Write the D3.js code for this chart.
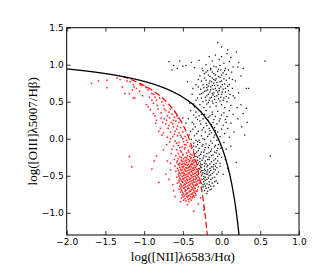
<!DOCTYPE html>
<html>
<head>
<meta charset="utf-8">
<script src="https://cdn.jsdelivr.net/npm/d3@7"></script>
<style>
	body { margin: 0; background: #fff; }
	svg { display: block; }
</style>
</head>
<body>
<script>
// BPT diagram: [NII]/Ha vs [OIII]/Hb
const xTicks = [-2.0, -1.5, -1.0, -0.5, 0.0, 0.5, 1.0];
const yTicks = [-1.0, -0.5, 0.0, 0.5, 1.0, 1.5];
const xLabel = "log([NII]λ6583/Hα)";
const yLabel = "log([OIII]λ5007/Hβ)";

// demarcation lines: y = a / (x - b) + c
const kewleyCoef = [0.61, 0.47, 1.19];
const kauffmannCoef = [0.61, 0.05, 1.3];
const kauffmannStart = -1.28;

// black points (above Kauffmann line)
const agnTop = [[-0.05,1.30],[0.08,1.20],[0.07,1.15],[0.19,1.17],[0.00,1.11],[-0.68,1.04],[-0.54,1.05],[-0.39,1.03],[-0.29,1.06],[-0.16,1.11],[-0.03,1.07],[0.56,1.05],[0.15,0.97],[0.21,0.97],[0.28,0.95],[-0.50,0.98],[-0.46,0.99],[-0.64,0.93],[-0.57,0.95],[-0.62,0.99],[-0.12,1.05],[-0.08,1.13],[0.03,1.02],[0.10,1.04],[-0.20,1.00],[-0.10,0.98],[-0.02,0.99],[0.05,0.95],[0.12,1.10],[-0.25,0.95],[-0.35,0.96],[0.00,1.24],[-0.14,0.93],[0.22,1.03]];
const agnMid = [[-0.18,0.92],[-0.12,0.90],[-0.05,0.91],[0.02,0.89],[-0.22,0.88],[-0.08,0.86],[0.06,0.87],[-0.15,0.84],[-0.02,0.83],[-0.28,0.85],[0.10,0.82],[-0.10,0.80],[-0.20,0.79],[0.00,0.78],[-0.06,0.76],[-0.16,0.75],[0.04,0.74],[-0.24,0.73],[-0.12,0.72],[-0.01,0.70],[0.08,0.71],[-0.19,0.69],[-0.08,0.68],[-0.30,0.70],[0.14,0.68],[-0.14,0.66],[-0.03,0.65],[-0.22,0.64],[0.05,0.63],[-0.10,0.62],[-0.17,0.60],[0.00,0.60],[-0.26,0.61],[0.11,0.60],[-0.06,0.58],[-0.13,0.56],[-0.21,0.56],[0.03,0.55],[-0.09,0.53],[-0.31,0.55],[0.17,0.55],[-0.16,0.52],[-0.02,0.51],[-0.24,0.50],[0.07,0.50],[-0.11,0.48],[-0.19,0.47],[0.00,0.46],[-0.28,0.46],[0.12,0.45],[-0.07,0.44],[-0.15,0.43],[-0.23,0.42],[0.04,0.42],[-0.35,0.43],[0.20,0.42],[-0.41,0.48],[-0.38,0.60],[-0.44,0.77],[-0.33,0.73],[-0.37,0.68],[0.32,0.68],[0.35,0.68],[0.25,0.46],[0.32,0.41],[0.28,0.34],[0.22,0.62],[0.18,0.78],[0.25,0.85],[0.13,0.90],[-0.26,0.78],[-0.04,0.94],[0.09,0.93],[-0.13,0.77],[-0.09,0.72],[-0.05,0.63],[0.15,0.58],[-0.20,0.65],[-0.01,0.56],[0.06,0.79],[0.02,0.67],[-0.17,0.71],[-0.11,0.59],[-0.27,0.67],[0.09,0.65],[-0.07,0.81],[-0.33,0.52],[-0.36,0.47],
	[-0.14,0.95],[-0.07,0.97],[-0.01,0.93],[-0.20,0.90],[-0.10,0.88],[0.00,0.86],[-0.17,0.86],[-0.04,0.84],[-0.12,0.82],[0.03,0.81],[-0.22,0.82],[-0.08,0.79],[-0.15,0.78],[-0.02,0.77],[-0.10,0.75],[0.01,0.73],[-0.19,0.73],[-0.05,0.72],[-0.14,0.70],[-0.23,0.69],[-0.03,0.68],[-0.11,0.67],[0.05,0.68],[-0.18,0.66],[-0.07,0.65],[-0.15,0.63],[0.01,0.63],[-0.24,0.62],[-0.12,0.61],[-0.04,0.60],[-0.19,0.58],[-0.09,0.57],[0.06,0.57],[-0.15,0.55],[-0.04,0.54],[-0.20,0.52],[-0.12,0.51],[0.02,0.52],[-0.07,0.49],[-0.17,0.49],[-0.26,0.55],[0.09,0.55],[-0.28,0.60],[0.10,0.73],[-0.30,0.80],[0.14,0.80],[0.04,0.92],[-0.24,0.92]];
const agnLow = [[-0.40,0.38],[-0.33,0.36],[-0.27,0.37],[-0.20,0.38],[-0.12,0.36],[-0.05,0.37],[0.03,0.35],[0.10,0.38],[-0.36,0.32],[-0.29,0.31],[-0.22,0.33],[-0.15,0.31],[-0.08,0.30],[0.00,0.32],[0.07,0.30],[0.15,0.33],[-0.43,0.27],[-0.31,0.26],[-0.24,0.27],[-0.18,0.25],[-0.10,0.26],[-0.03,0.24],[0.05,0.26],[0.21,0.27],[-0.46,0.21],[-0.38,0.22],[-0.27,0.20],[-0.20,0.21],[-0.13,0.19],[-0.06,0.20],[0.02,0.18],[0.12,0.21],[-0.50,0.28],[-0.34,0.16],[-0.23,0.15],[-0.16,0.14],[-0.09,0.15],[0.00,0.13],[0.08,0.14],[0.26,0.16],[-0.40,0.10],[-0.30,0.10],[-0.21,0.09],[-0.13,0.08],[-0.05,0.09],[0.04,0.07],[0.16,0.09],[-0.42,0.05],[-0.35,0.04],[-0.26,0.04],[-0.18,0.03],[-0.10,0.02],[-0.02,0.03],[0.10,0.02],[-0.39,-0.01],[-0.29,-0.02],[-0.22,-0.01],[-0.14,-0.03],[-0.06,-0.02],[0.30,0.05],[0.33,0.22],[-0.17,0.29],[-0.26,0.33],[-0.11,0.22],[-0.32,0.07],[-0.08,0.11],[0.06,0.22],[-0.19,0.18],[-0.37,0.13],
	[-0.25,0.12],[-0.15,0.11],[-0.28,0.24],[-0.21,0.28],[-0.12,0.33],[-0.33,0.29],[-0.02,0.27],[-0.36,0.20],[-0.24,0.00],[-0.31,-0.04],[-0.16,0.06],[-0.09,0.05]];
const agnBottom = [[-0.36,-0.06],[-0.28,-0.05],[-0.20,-0.07],[-0.12,-0.06],[-0.04,-0.08],[0.03,-0.05],[-0.33,-0.11],[-0.25,-0.10],[-0.17,-0.12],[-0.09,-0.11],[-0.01,-0.13],[-0.36,-0.15],[-0.30,-0.16],[-0.22,-0.15],[-0.14,-0.17],[-0.06,-0.16],[0.06,-0.14],[-0.34,-0.20],[-0.27,-0.21],[-0.19,-0.20],[-0.11,-0.22],[-0.03,-0.21],[-0.31,-0.25],[-0.24,-0.26],[-0.16,-0.25],[-0.08,-0.27],[0.00,-0.25],[-0.34,-0.29],[-0.28,-0.31],[-0.21,-0.30],[-0.13,-0.31],[-0.05,-0.30],[-0.31,-0.35],[-0.25,-0.35],[-0.18,-0.36],[-0.10,-0.35],[-0.02,-0.37],[-0.29,-0.40],[-0.22,-0.41],[-0.15,-0.40],[-0.08,-0.42],[-0.27,-0.45],[-0.24,-0.46],[-0.19,-0.45],[-0.12,-0.47],[-0.04,-0.45],[-0.26,-0.50],[-0.23,-0.51],[-0.16,-0.50],[-0.09,-0.52],[-0.25,-0.55],[-0.21,-0.56],[-0.14,-0.55],[-0.07,-0.57],[-0.26,-0.60],[-0.19,-0.61],[-0.12,-0.60],[-0.24,-0.65],[-0.17,-0.66],[-0.10,-0.64],[-0.22,-0.70],[-0.15,-0.69],[-0.19,-0.74],[-0.30,-0.33],[-0.27,-0.38],[-0.24,-0.43],[-0.20,-0.48],[-0.17,-0.53],[-0.23,-0.58],[-0.28,-0.27],[-0.23,-0.23],[-0.20,-0.34],[-0.14,-0.43],[-0.11,-0.38],[-0.26,-0.18],[-0.33,-0.02],[-0.07,-0.19],[-0.02,-0.33],[0.05,-0.28],[0.08,-0.40],[0.19,-0.32],[0.63,-0.23],[0.12,-0.10],[0.02,-0.48],[-0.05,-0.60],[-0.16,-0.58],[-0.21,-0.64],[-0.13,-0.68],[-0.28,-0.41],[-0.25,-0.48],[-0.18,-0.42],[-0.22,-0.37],[-0.16,-0.28],[-0.10,-0.45],[-0.06,-0.39],
	[-0.31,-0.08],[-0.24,-0.08],[-0.16,-0.09],[-0.08,-0.09],[-0.29,-0.13],[-0.21,-0.12],[-0.13,-0.14],[-0.05,-0.13],[-0.32,-0.18],[-0.23,-0.18],[-0.16,-0.19],[-0.09,-0.18],[-0.29,-0.23],[-0.20,-0.24],[-0.13,-0.23],[-0.05,-0.24],[-0.31,-0.29],[-0.25,-0.29],[-0.18,-0.28],[-0.10,-0.29],[-0.27,-0.34],[-0.22,-0.33],[-0.15,-0.34],[-0.07,-0.33],[-0.26,-0.39],[-0.19,-0.38],[-0.13,-0.38],[-0.08,-0.37],[-0.26,-0.43],[-0.21,-0.43],[-0.16,-0.45],[-0.10,-0.41],[-0.22,-0.47],[-0.18,-0.48],[-0.14,-0.49],[-0.06,-0.48],[-0.21,-0.52],[-0.19,-0.55],[-0.12,-0.53],[-0.23,-0.54],[-0.22,-0.61],[-0.16,-0.62],[-0.09,-0.58],[-0.20,-0.67],[-0.14,-0.64],[-0.18,-0.71],[-0.24,-0.62],[-0.28,-0.36],[-0.33,-0.24],[-0.36,-0.10]];

// red points (below Kauffmann line)
const sfTop = [[-1.68,0.75],[-1.59,0.78],[-1.48,0.79],[-1.48,0.69],[-1.35,0.82],[-1.31,0.80],[-1.25,0.61],[-1.19,0.61],[-1.22,0.78],[-1.18,0.77],[-1.15,0.66],[-1.14,0.73],[-1.13,0.70],[-1.12,0.55],[-1.14,0.55],[-1.10,0.68],[-1.06,0.64],[-1.05,0.73],[-1.03,0.72],[-0.98,0.70],[-0.97,0.69],[-0.95,0.66],[-0.97,0.46],[-0.95,0.43],[-0.92,0.39],[-0.90,0.52],[-0.88,0.48],[-0.90,0.61],[-0.88,0.60],[-0.86,0.56],[-0.84,0.52],[-0.83,0.45],[-0.82,0.40],[-0.88,0.34],[-0.86,0.31],[-0.84,0.25],[-0.85,0.21],[-0.79,0.14],[-0.81,0.10],[-0.78,0.35],[-0.80,0.55],[-0.77,0.50],[-0.75,0.45],[-0.78,0.28],[-0.76,0.22],[-0.74,0.40],[-1.28,0.70],[-1.02,0.58],[-0.93,0.56]];
const sfMid = [[-0.72,0.38],[-0.68,0.36],[-0.66,0.40],[-0.70,0.31],[-0.64,0.33],[-0.74,0.27],[-0.67,0.28],[-0.61,0.29],[-0.72,0.20],[-0.65,0.22],[-0.59,0.24],[-0.55,0.22],[-0.69,0.14],[-0.62,0.16],[-0.57,0.17],[-0.53,0.15],[-0.75,0.08],[-0.66,0.09],[-0.60,0.10],[-0.55,0.08],[-0.50,0.09],[-0.70,0.02],[-0.63,0.03],[-0.57,0.04],[-0.52,0.02],[-0.47,0.03],[-0.67,-0.04],[-0.60,-0.03],[-0.55,-0.05],[-0.49,-0.04],[-0.45,-0.02],[-0.62,-0.10],[-0.56,-0.09],[-0.51,-0.11],[-0.46,-0.08],[-0.41,-0.10],[-0.58,-0.15],[-0.53,-0.16],[-0.48,-0.14],[-0.43,-0.16],[-0.39,-0.13],[-0.56,-0.20],[-0.50,-0.21],[-0.45,-0.19],[-0.40,-0.21],[-0.63,0.20],[-0.58,0.31],[-0.77,0.05],[-0.71,-0.08],[-0.56,0.28],[-0.60,0.36],[-0.66,0.00],
	[-0.54,-0.12],[-0.47,-0.12],[-0.44,-0.05],[-0.50,0.00],[-0.58,-0.06],[-0.52,-0.18],[-0.42,-0.18],[-0.48,-0.08],[-0.53,0.05],[-0.58,0.13],[-0.61,0.06],[-0.64,-0.14],[-0.68,0.18],[-0.71,0.25],[-0.62,0.25]];
const sfBlob = [[-0.59,-0.23],[-0.54,-0.24],[-0.50,-0.22],[-0.47,-0.25],[-0.44,-0.23],[-0.41,-0.24],[-0.38,-0.22],[-0.36,-0.25],
	[-0.61,-0.28],[-0.56,-0.27],[-0.52,-0.29],[-0.49,-0.27],[-0.46,-0.29],[-0.43,-0.28],[-0.40,-0.27],[-0.37,-0.29],[-0.35,-0.28],
	[-0.58,-0.32],[-0.54,-0.33],[-0.51,-0.31],[-0.48,-0.33],[-0.45,-0.32],[-0.42,-0.31],[-0.39,-0.33],[-0.36,-0.32],[-0.34,-0.31],
	[-0.60,-0.37],[-0.55,-0.36],[-0.52,-0.35],[-0.49,-0.37],[-0.47,-0.35],[-0.44,-0.36],[-0.41,-0.37],[-0.38,-0.35],[-0.35,-0.36],[-0.33,-0.37],
	[-0.57,-0.40],[-0.53,-0.41],[-0.50,-0.39],[-0.48,-0.41],[-0.45,-0.40],[-0.43,-0.39],[-0.40,-0.41],[-0.37,-0.40],[-0.34,-0.39],[-0.32,-0.41],
	[-0.59,-0.44],[-0.55,-0.45],[-0.52,-0.43],[-0.49,-0.45],[-0.46,-0.44],[-0.44,-0.43],[-0.41,-0.45],[-0.39,-0.44],[-0.36,-0.43],[-0.33,-0.45],[-0.31,-0.44],
	[-0.56,-0.48],[-0.53,-0.49],[-0.50,-0.47],[-0.47,-0.49],[-0.45,-0.48],[-0.42,-0.47],[-0.40,-0.49],[-0.37,-0.48],[-0.35,-0.47],[-0.32,-0.49],[-0.30,-0.48],
	[-0.58,-0.52],[-0.54,-0.53],[-0.51,-0.51],[-0.48,-0.53],[-0.46,-0.52],[-0.43,-0.51],[-0.41,-0.53],[-0.38,-0.52],[-0.36,-0.51],[-0.33,-0.53],[-0.30,-0.52],
	[-0.55,-0.56],[-0.52,-0.57],[-0.49,-0.55],[-0.47,-0.57],[-0.44,-0.56],[-0.42,-0.55],[-0.39,-0.57],[-0.37,-0.56],[-0.34,-0.55],[-0.31,-0.57],[-0.29,-0.56],
	[-0.57,-0.60],[-0.53,-0.61],[-0.50,-0.59],[-0.48,-0.61],[-0.45,-0.60],[-0.43,-0.59],[-0.40,-0.61],[-0.38,-0.60],[-0.35,-0.59],[-0.32,-0.61],[-0.29,-0.60],
	[-0.54,-0.64],[-0.51,-0.65],[-0.49,-0.63],[-0.46,-0.65],[-0.44,-0.64],[-0.41,-0.63],[-0.39,-0.65],[-0.36,-0.64],[-0.33,-0.63],[-0.30,-0.65],
	[-0.55,-0.68],[-0.52,-0.69],[-0.49,-0.67],[-0.47,-0.69],[-0.44,-0.68],[-0.42,-0.67],[-0.39,-0.69],[-0.37,-0.68],[-0.34,-0.67],[-0.31,-0.69],
	[-0.53,-0.72],[-0.50,-0.73],[-0.47,-0.71],[-0.45,-0.73],[-0.42,-0.72],[-0.40,-0.71],[-0.37,-0.73],[-0.35,-0.72],[-0.32,-0.71],
	[-0.51,-0.76],[-0.48,-0.77],[-0.46,-0.75],[-0.43,-0.77],[-0.41,-0.76],[-0.38,-0.75],[-0.36,-0.77],[-0.33,-0.76],
	[-0.52,-0.80],[-0.47,-0.81],[-0.44,-0.79],[-0.41,-0.81],[-0.38,-0.80],[-0.35,-0.79],
	[-0.53,-0.85],[-0.46,-0.84],[-0.42,-0.85],[-0.39,-0.83],
	[-0.52,-0.255],[-0.45,-0.26],[-0.39,-0.255],
	[-0.57,-0.30],[-0.50,-0.305],[-0.47,-0.30],[-0.41,-0.295],[-0.38,-0.305],
	[-0.56,-0.345],[-0.50,-0.34],[-0.46,-0.35],[-0.43,-0.345],[-0.40,-0.35],[-0.37,-0.34],
	[-0.54,-0.385],[-0.51,-0.38],[-0.46,-0.39],[-0.42,-0.385],[-0.39,-0.38],[-0.36,-0.39],
	[-0.56,-0.425],[-0.51,-0.42],[-0.47,-0.425],[-0.42,-0.42],[-0.38,-0.425],[-0.35,-0.415],
	[-0.54,-0.465],[-0.51,-0.46],[-0.48,-0.47],[-0.43,-0.465],[-0.38,-0.46],[-0.34,-0.465],
	[-0.55,-0.505],[-0.49,-0.50],[-0.44,-0.505],[-0.39,-0.50],[-0.34,-0.505],[-0.31,-0.50],
	[-0.53,-0.545],[-0.50,-0.54],[-0.45,-0.545],[-0.40,-0.54],[-0.36,-0.545],[-0.32,-0.54],
	[-0.55,-0.585],[-0.51,-0.58],[-0.46,-0.585],[-0.41,-0.58],[-0.36,-0.585],[-0.33,-0.58],
	[-0.52,-0.625],[-0.47,-0.62],[-0.42,-0.625],[-0.37,-0.62],[-0.34,-0.625],[-0.31,-0.62],
	[-0.53,-0.665],[-0.48,-0.66],[-0.43,-0.665],[-0.38,-0.66],[-0.35,-0.665],
	[-0.51,-0.705],[-0.46,-0.70],[-0.41,-0.705],[-0.36,-0.70],[-0.33,-0.705],
	[-0.49,-0.745],[-0.44,-0.74],[-0.39,-0.745],[-0.34,-0.74],
	[-0.50,-0.785],[-0.45,-0.78],[-0.40,-0.785],[-0.37,-0.78],
	[-0.49,-0.83],[-0.43,-0.82]];
const sfSparse = [[-0.23,-0.92],[-0.23,-0.96],[-0.36,-0.98],[-0.44,-0.89],[-0.30,-0.88],[-0.27,-0.80],[-0.70,-0.30],[-0.66,-0.42],[-0.68,-0.55],[-0.63,-0.62],[-0.72,-0.48],[-0.65,-0.20],[-0.75,-0.15],[-0.62,-0.70],[-0.60,-0.78],[-0.66,-0.33],[-1.19,-0.24],[-1.16,-0.38],[-0.84,-0.23],[-0.87,-0.30],[-0.90,-0.41],[-0.81,-0.59]];

const width = 332;
const height = 277;
const mLeft = 66.7, mRight = 299, mTop = 27.7, mBottom = 235;

const svg = d3.select("body").append("svg")
	.attr("width", width)
	.attr("height", height);

const x = d3.scaleLinear().domain([-2, 1]).range([mLeft, mRight]);
const y = d3.scaleLinear().domain([-1.3, 1.5]).range([mBottom, mTop]);

svg.append("defs").append("clipPath").attr("id", "plot")
	.append("rect")
	.attr("x", mLeft).attr("y", mTop)
	.attr("width", mRight - mLeft).attr("height", mBottom - mTop);

const plot = svg.append("g").attr("clip-path", "url(#plot)");

const drawPoints = (pts, color, size) => {
	plot.append("g")
		.selectAll("rect")
		.data(pts)
		.enter()
		.append("rect")
		.attr("x", (d) => x(d[0]) - size / 2)
		.attr("y", (d) => y(d[1]) - size / 2)
		.attr("width", size)
		.attr("height", size)
		.attr("fill", color);
};

drawPoints([].concat(sfTop, sfMid, sfBlob, sfSparse), "#ff2020", 1.5);
drawPoints([].concat(agnTop, agnMid, agnLow, agnBottom), "#1a1a1a", 1.3);

const curve = (coef, x0, x1) => {
	const [a, b, c] = coef;
	return d3.range(x0, x1, 0.005).map((v) => [v, a / (v - b) + c]);
};

const line = d3.line()
	.x((d) => x(d[0]))
	.y((d) => y(d[1]));

plot.append("path")
	.datum(curve(kauffmannCoef, kauffmannStart, -0.17))
	.attr("d", line)
	.attr("fill", "none")
	.attr("stroke", "#ff0000")
	.attr("stroke-width", 1.2)
	.attr("stroke-dasharray", "6,3");

plot.append("path")
	.datum(curve(kewleyCoef, -2, 0.24))
	.attr("d", line)
	.attr("fill", "none")
	.attr("stroke", "#000")
	.attr("stroke-width", 1.3);

// axes with inward ticks on all sides
const fmt = d3.format(".1f");
const styleAxis = (g) => {
	g.select(".domain").remove();
	g.selectAll("text")
		.attr("font-family", "DejaVu Sans")
		.attr("font-size", 9)
		.attr("fill", "#000");
	g.selectAll("line").attr("stroke", "#000").attr("stroke-width", 0.8);
};

svg.append("g")
	.attr("transform", `translate(0,${mBottom})`)
	.call(d3.axisBottom(x).tickValues(xTicks).tickFormat(fmt).tickSizeInner(-4).tickSizeOuter(0).tickPadding(3.5))
	.call(styleAxis);
svg.append("g")
	.attr("transform", `translate(0,${mTop})`)
	.call(d3.axisTop(x).tickValues(xTicks).tickFormat("").tickSizeInner(-4).tickSizeOuter(0))
	.call(styleAxis);
svg.append("g")
	.attr("transform", `translate(${mLeft},0)`)
	.call(d3.axisLeft(y).tickValues(yTicks).tickFormat(fmt).tickSizeInner(-4).tickSizeOuter(0).tickPadding(3))
	.call(styleAxis);
svg.append("g")
	.attr("transform", `translate(${mRight},0)`)
	.call(d3.axisRight(y).tickValues(yTicks).tickFormat("").tickSizeInner(-4).tickSizeOuter(0))
	.call(styleAxis);

svg.append("rect")
	.attr("x", mLeft).attr("y", mTop)
	.attr("width", mRight - mLeft).attr("height", mBottom - mTop)
	.attr("fill", "none")
	.attr("stroke", "#000")
	.attr("stroke-width", 1);

svg.append("text")
	.attr("x", (mLeft + mRight) / 2)
	.attr("y", 260.5)
	.attr("text-anchor", "middle")
	.attr("font-family", "Liberation Serif")
	.attr("font-size", 13)
	.text(xLabel);

svg.append("text")
	.attr("transform", `translate(37,${(mTop + mBottom) / 2}) rotate(-90)`)
	.attr("text-anchor", "middle")
	.attr("font-family", "Liberation Serif")
	.attr("font-size", 13)
	.text(yLabel);
</script>
</body>
</html>
